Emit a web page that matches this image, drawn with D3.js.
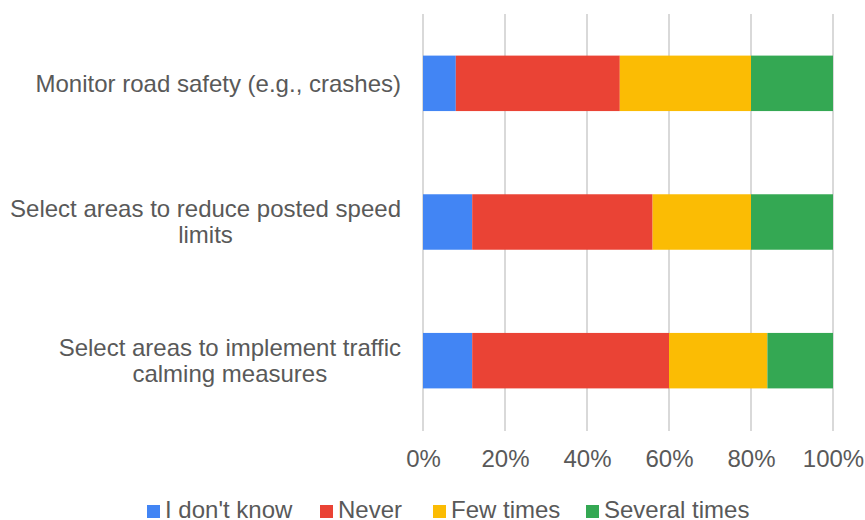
<!DOCTYPE html>
<html><head><meta charset="utf-8">
<script src="https://cdn.jsdelivr.net/npm/d3@7"></script>
<style>body{margin:0;background:#fff}svg{display:block}text{font-family:"Liberation Sans",Arial,sans-serif;fill:#595959}</style>
</head><body>
<svg id="c" width="865" height="520"></svg>
<script>
const categories = [
  ["Monitor road safety (e.g., crashes)"],
  ["Select areas to reduce posted speed", "limits"],
  ["Select areas to implement traffic", "calming measures"]
];
const seriesNames = ["I don't know", "Never", "Few times", "Several times"];
const seriesColors = ["#4285F4", "#EA4335", "#FBBC04", "#34A853"];
const dontKnow = [8, 12, 12];
const never = [40, 44, 48];
const fewTimes = [32, 24, 24];
const severalTimes = [20, 20, 16];
const tickValues = [0, 20, 40, 60, 80, 100];

const series = [dontKnow, never, fewTimes, severalTimes];
const rows = categories.map((c, i) => {
  const r = {id: i};
  seriesNames.forEach((s, j) => r[s] = series[j][i]);
  return r;
});
const stacked = d3.stack().keys(seriesNames)(rows);

const svg = d3.select("#c");
const x = d3.scaleLinear().domain([0, 100]).range([423, 833]);
const y = d3.scaleBand().domain(rows.map(r => r.id)).range([14, 430]).paddingInner(0.6).paddingOuter(0.3);

// gridlines
svg.append("g").selectAll("line").data(tickValues).join("line")
  .attr("x1", d => x(d)).attr("x2", d => x(d))
  .attr("y1", 14).attr("y2", 431)
  .attr("stroke", "#d9d9d9").attr("stroke-width", 2);

// bars
svg.append("g").selectAll("g").data(stacked).join("g")
  .attr("fill", (d, i) => seriesColors[i])
  .selectAll("rect").data(d => d).join("rect")
  .attr("x", d => x(d[0]))
  .attr("width", d => x(d[1]) - x(d[0]))
  .attr("y", d => y(d.data.id))
  .attr("height", y.bandwidth());

// x axis tick labels
const xAxis = d3.axisBottom(x).tickValues(tickValues).tickFormat(d => d + "%").tickSize(0).tickPadding(0);
const gx = svg.append("g").attr("transform", "translate(0,467)").call(xAxis);
gx.select(".domain").remove();
gx.selectAll("text").attr("font-size", 24).attr("font-family", "Liberation Sans, Arial, sans-serif").attr("fill", "#595959").attr("y", 0).attr("dy", 0);

// category labels
const labG = svg.append("g").attr("font-size", 24);
categories.forEach((lines, i) => {
  const cy = y(i) + y.bandwidth() / 2;
  const lh = 26;
  const t = labG.append("text").attr("text-anchor", "middle");
  const spans = lines.map((l, k) => t.append("tspan").text(l)
    .attr("y", cy + (k - (lines.length - 1) / 2) * lh).attr("dy", "0.35em"));
  const maxW = d3.max(spans, s => s.node().getComputedTextLength());
  spans.forEach(s => s.attr("x", 401 - maxW / 2));
});

// legend
const legX = [147, 320, 433, 586];
const lg = svg.append("g").attr("font-size", 24);
seriesNames.forEach((s, i) => {
  lg.append("rect").attr("x", legX[i]).attr("y", 505).attr("width", 13).attr("height", 13).attr("fill", seriesColors[i]);
  lg.append("text").attr("x", legX[i] + 18).attr("y", 518).text(s);
});
</script>
</body></html>
